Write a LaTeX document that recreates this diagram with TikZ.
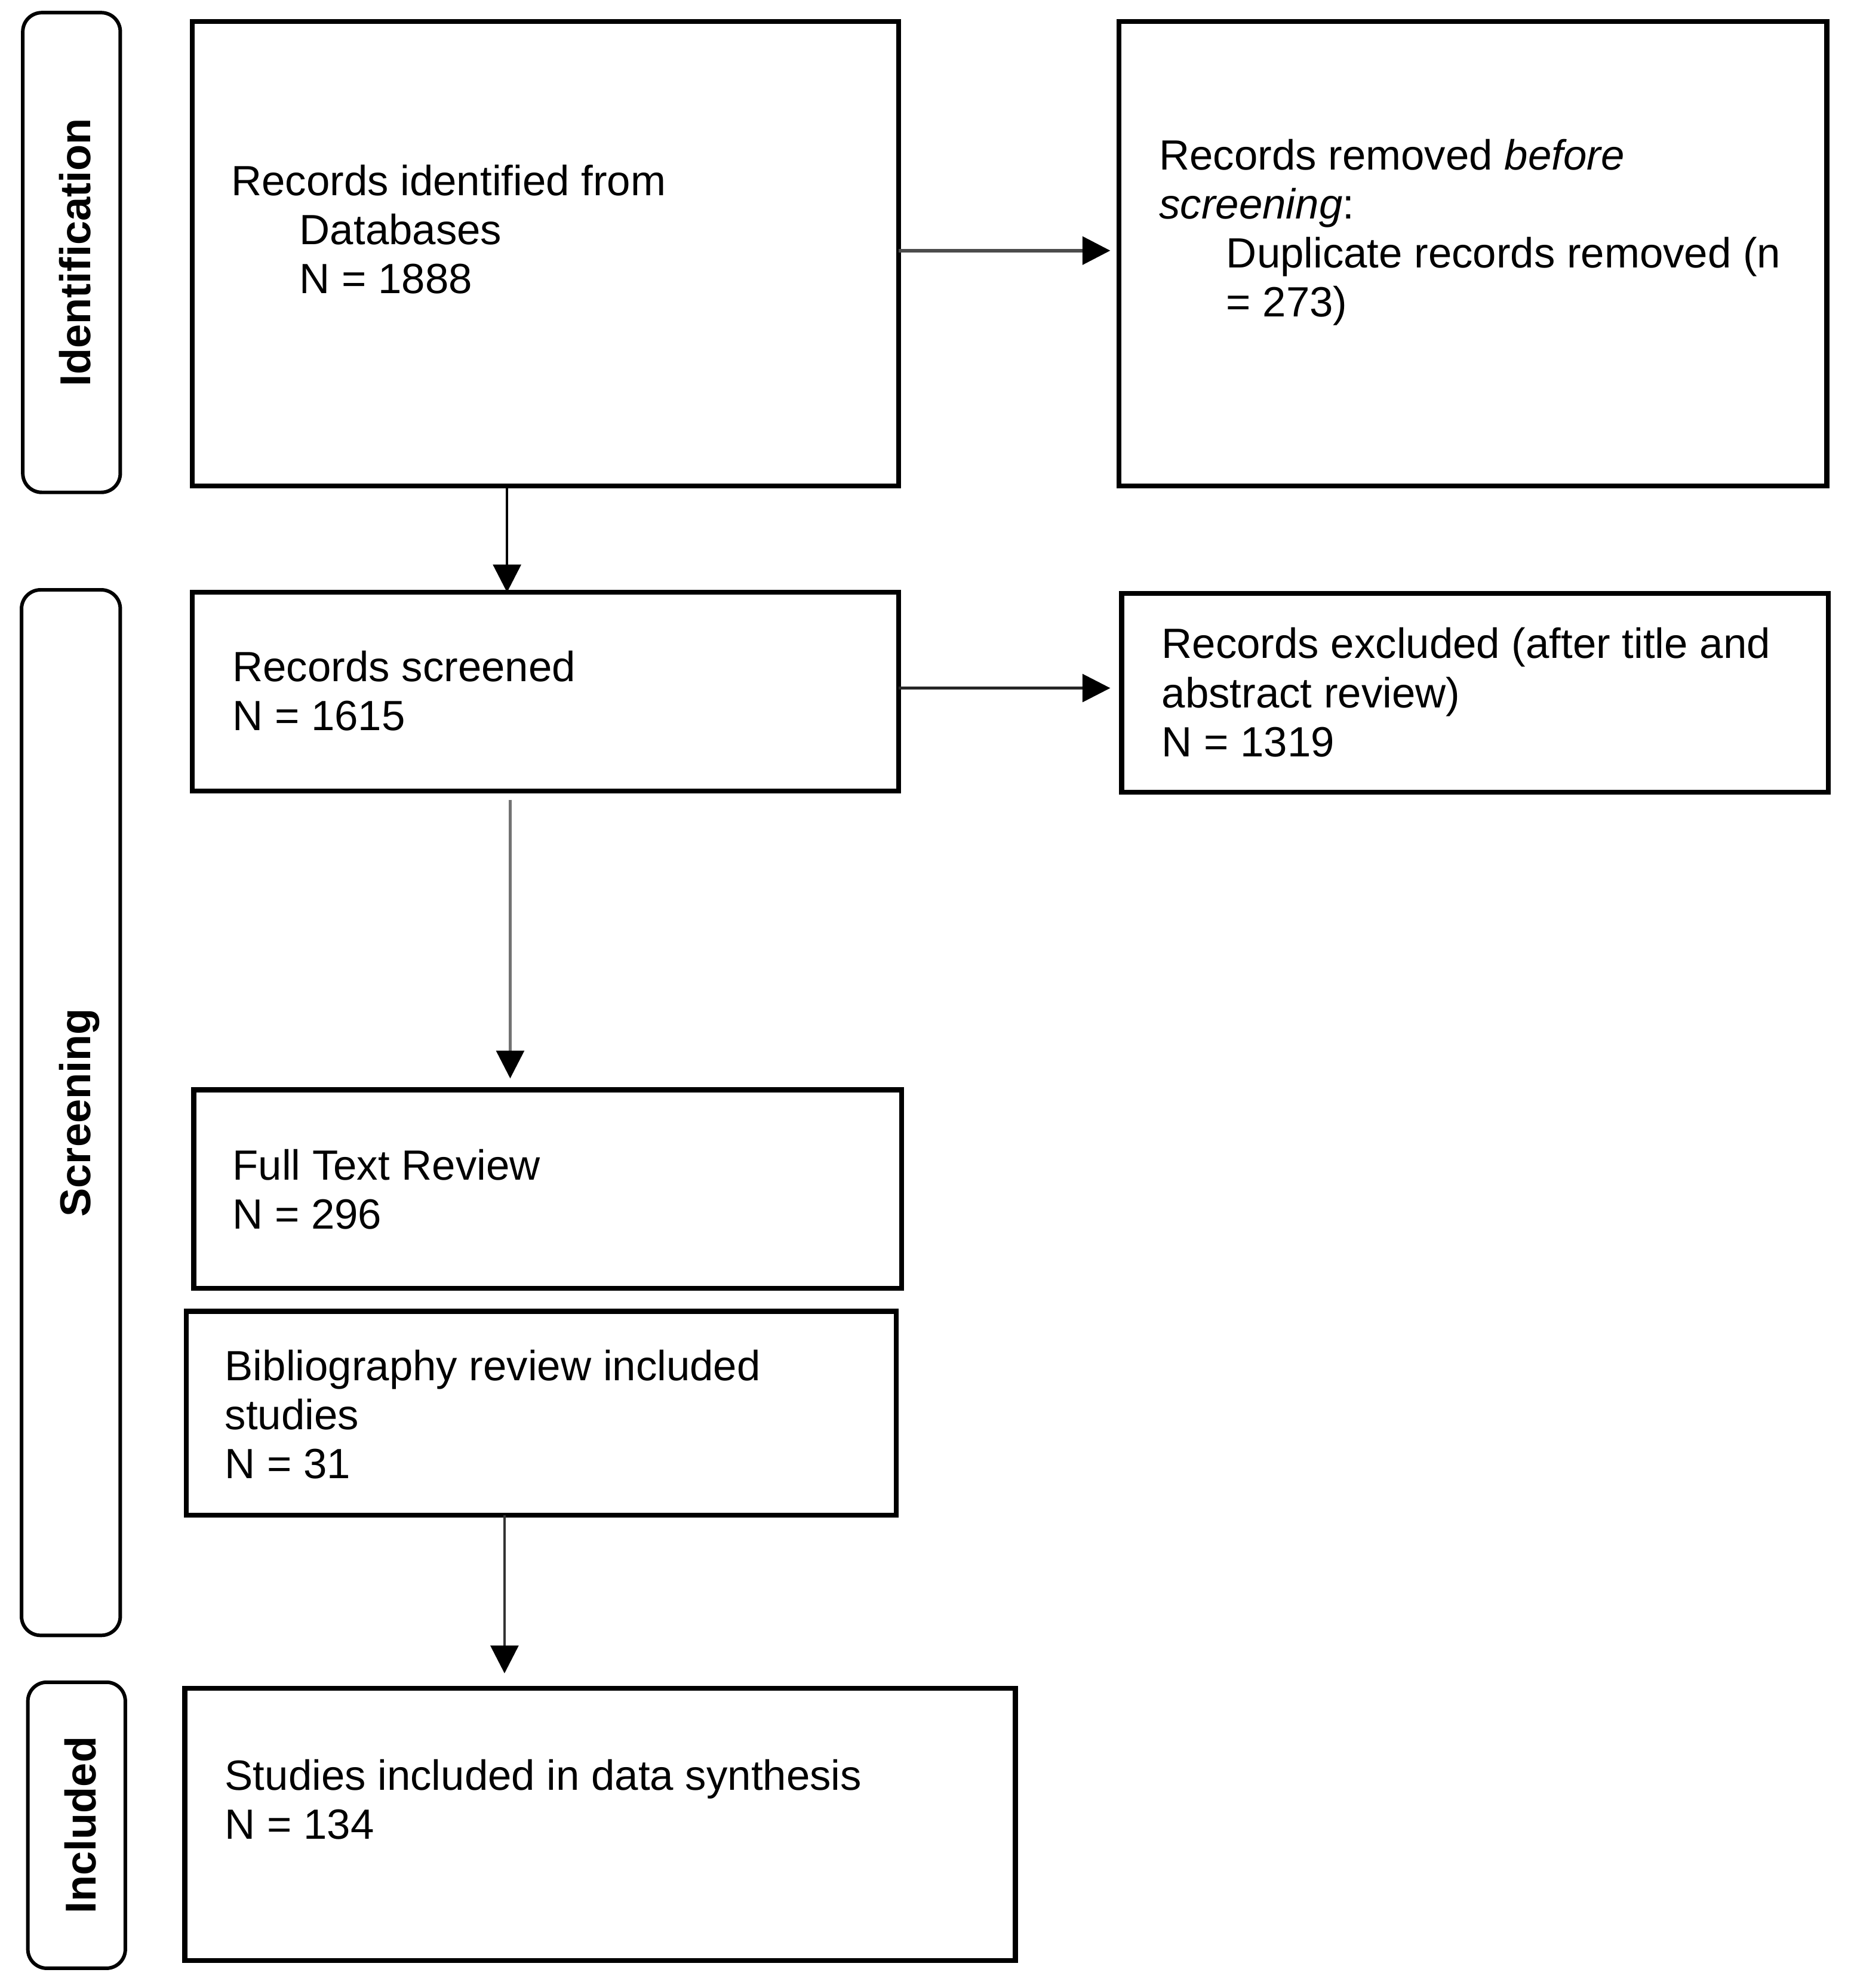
\documentclass[tikz,border=0pt]{standalone}
\usepackage{fontspec}
\setmainfont{Liberation Sans}
\usetikzlibrary{arrows.meta}
\begin{document}
\begin{tikzpicture}[x=0.1mm,y=-0.1mm,
  pbox/.style={draw=black, line width=1.1pt, rectangle, inner sep=0pt, outer sep=0pt},
  lbox/.style={draw=black, line width=0.8pt, rectangle, rounded corners=1.5mm, inner sep=0pt, outer sep=0pt},
  btext/.style={anchor=base west, inner sep=0pt, align=left, font=\fontsize{9.5pt}{11.03pt}\selectfont},
  ltext/.style={anchor=base, rotate=90, inner sep=0pt, font=\fontsize{9.7pt}{11pt}\selectfont\bfseries},
  arr/.style={-{Triangle[length=2.2mm,width=2.2mm,color=black]}, line width=0.6pt}
]
\useasboundingbox (0,0) rectangle (1464,1570.6);

% phase labels
\node[lbox, minimum width=7.7mm, minimum height=37.9mm] (L1) at (56.5,199.5) {};
\node[lbox, minimum width=7.8mm, minimum height=82.6mm] (L2) at (56,879) {};
\node[lbox, minimum width=7.7mm, minimum height=22.6mm] (L3) at (60.5,1442) {};
\node[ltext] (lt1) at (71.3,199.5) {Identification};
\node[ltext] (lt2) at (71.5,879) {Screening};
\node[ltext] (lt3) at (75.8,1442) {Included};

% boxes
\node[pbox, minimum width=55.8mm, minimum height=36.7mm] (box1) at (431,200.5) {};
\node[pbox, minimum width=55.9mm, minimum height=36.7mm] (box2) at (1163.5,200.5) {};
\node[pbox, minimum width=55.8mm, minimum height=15.7mm] (box3) at (431,546.5) {};
\node[pbox, minimum width=55.8mm, minimum height=15.7mm] (box4) at (1165,547.5) {};
\node[pbox, minimum width=55.9mm, minimum height=15.7mm] (box5) at (432.5,939.5) {};
\node[pbox, minimum width=56.1mm, minimum height=16.1mm] (box6) at (427.5,1116.5) {};
\node[pbox, minimum width=65.6mm, minimum height=21.5mm] (box7) at (474,1441.5) {};

% texts (anchor at baseline of the last line)
\node[btext] (t1) at (182,232) {Records identified from\\\hspace*{5.4mm}Databases\\\hspace*{5.4mm}N = 1888};
\node[btext] (t2) at (915,250.4) {Records removed \textit{before}\\\textit{screening}:\\\hspace*{5.3mm}Duplicate records removed (n\\\hspace*{5.3mm}= 273)};
\node[btext] (t3) at (183,577) {Records screened\\N = 1615};
\node[btext] (t4) at (917,597.7) {Records excluded (after title and\\abstract review)\\N = 1319};
\node[btext] (t5) at (183,971) {Full Text Review\\N = 296};
\node[btext] (t6) at (177,1168) {Bibliography review included\\studies\\N = 31};
\node[btext] (t7) at (177,1453) {Studies included in data synthesis\\N = 134};

% arrow guide coordinates
\coordinate (ya1) at (0,198);
\coordinate (xa2) at (400.5,0);
\coordinate (ya3) at (0,543.6);
\coordinate (xa4) at (403,0);
\coordinate (xa5) at (398.5,0);

% connectors
\draw[arr, draw=black!70, line width=0.8pt, shorten >=0.7mm] (box1.east |- ya1) -- (box2.west |- ya1);
\draw[arr, draw=black] (box1.south -| xa2) -- (box3.north -| xa2);
\draw[arr, draw=black!85, shorten >=0.9mm] (box3.east |- ya3) -- (box4.west |- ya3);
\draw[arr, draw=black!55, shorten <=0.7mm, shorten >=0.9mm] (box3.south -| xa4) -- (box5.north -| xa4);
\draw[arr, draw=black!80, shorten >=1.2mm] (box6.south -| xa5) -- (box7.north -| xa5);
\end{tikzpicture}
\end{document}
